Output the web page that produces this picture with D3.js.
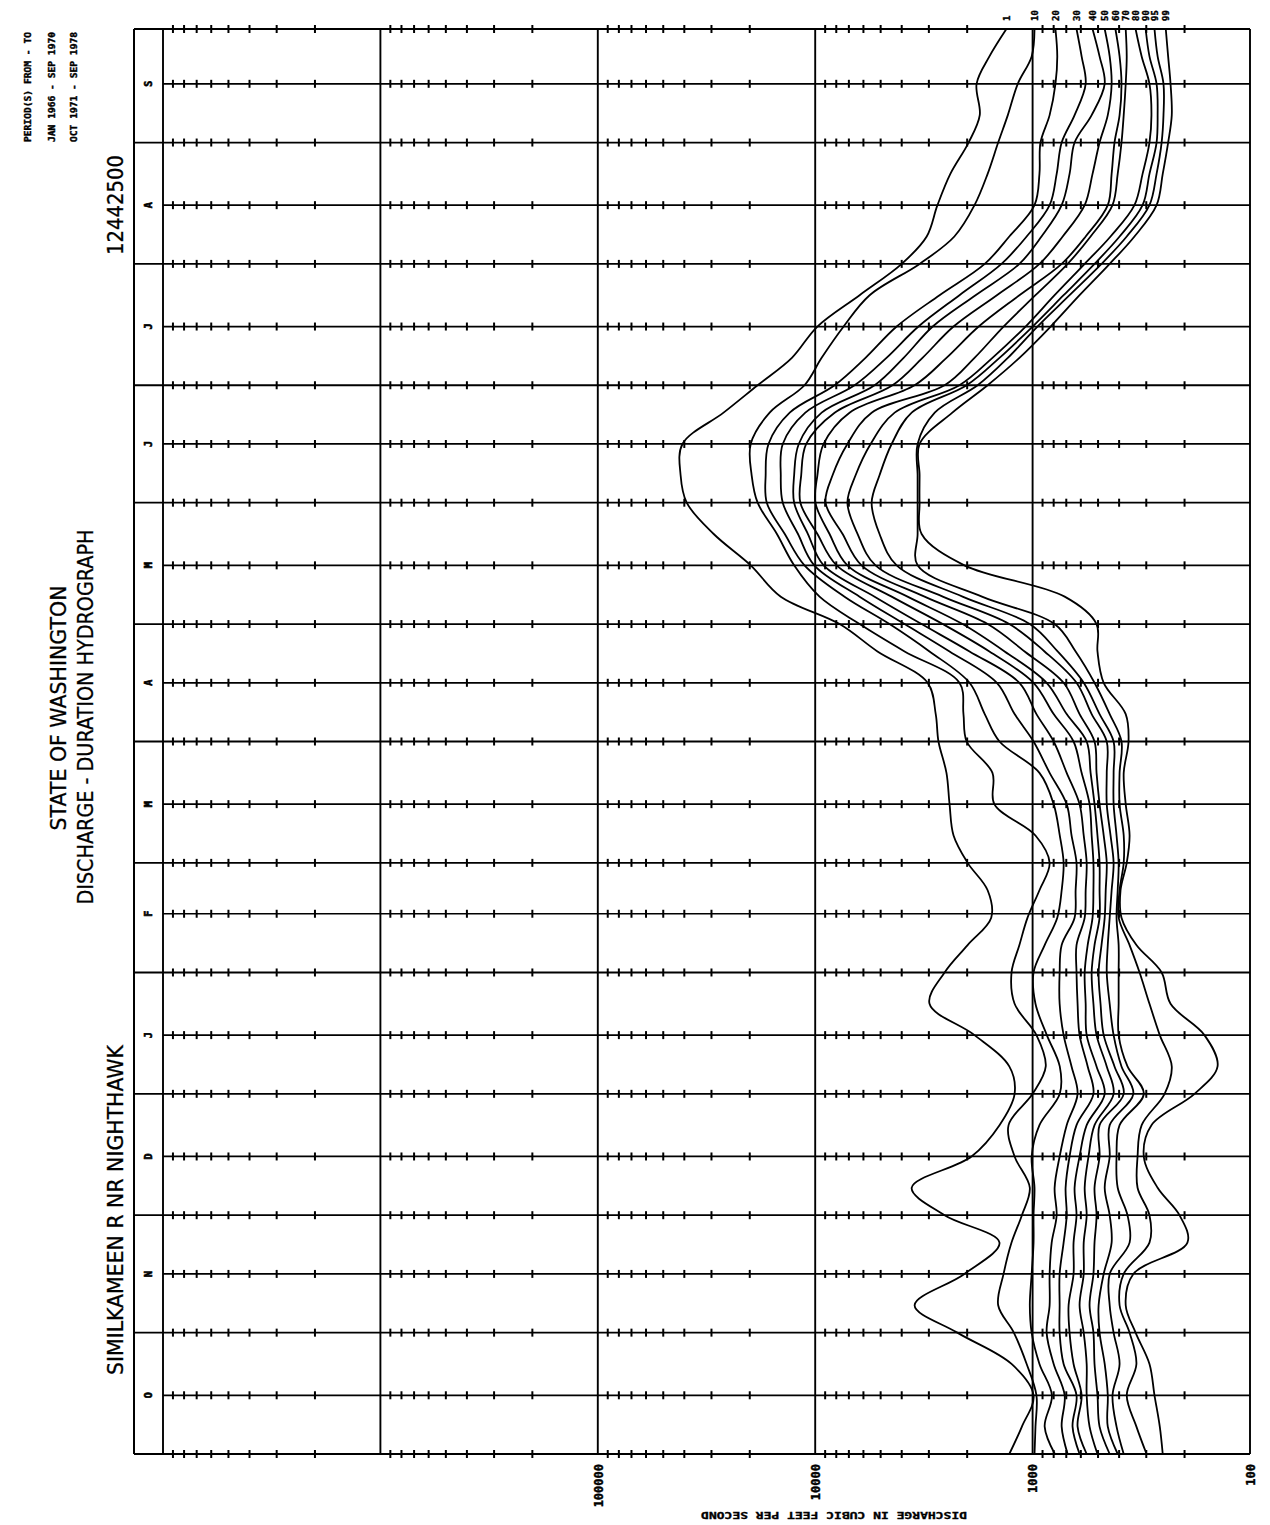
<!DOCTYPE html>
<html>
<head>
<meta charset="utf-8">
<script src="https://cdn.jsdelivr.net/npm/d3@7"></script>
<style>
  body { margin: 0; background: #fff; }
  text { fill: #000; }
</style>
</head>
<body>
<svg id="chart" width="1270" height="1525"></svg>
<script>
// sample dates of the water year (Oct 1969 - Sep 1970)
const dates = [
  "1969-10-01","1969-10-08","1969-10-16","1969-10-24",
  "1969-11-01","1969-11-08","1969-11-16","1969-11-24",
  "1969-12-01","1969-12-08","1969-12-16","1969-12-24",
  "1970-01-01","1970-01-08","1970-01-16","1970-01-24",
  "1970-02-01","1970-02-08","1970-02-15","1970-02-22",
  "1970-03-01","1970-03-08","1970-03-16","1970-03-24",
  "1970-04-01","1970-04-08","1970-04-16","1970-04-24",
  "1970-05-01","1970-05-08","1970-05-16","1970-05-24",
  "1970-06-01","1970-06-08","1970-06-16","1970-06-24",
  "1970-07-01","1970-07-08","1970-07-16","1970-07-24",
  "1970-08-01","1970-08-08","1970-08-16","1970-08-24",
  "1970-09-01","1970-09-08","1970-09-16","1970-09-23","1970-09-30"
];

// discharge (cfs) equalled or exceeded the given percent of time
const p1  = [1280,1120,990,1250,2220,3490,2060,1420,2540,3600,1910,1420,1210,1280,1850,2980,2540,1990,1550,1610,1990,2310,2410,2490,2710,2790,3040,5170,7720,14400,19800,29300,39000,41600,40800,26400,18400,12800,9770,6250,4000,3070,2740,2390,1970,1750,1810,1580,1320];
const p10 = [980,970,960,1065,1220,1440,1360,1250,1120,1030,1210,1290,1000,870,960,1210,1250,1150,1055,930,835,970,1500,1530,2010,2080,2170,3880,6250,9550,12500,15000,18400,19600,19800,16200,11200,9340,7400,5620,3310,2290,1850,1610,1440,1300,1170,1010,980];
const p20 = [790,880,815,930,1010,1030,1010,990,990,980,1010,930,750,750,860,970,990,880,770,735,720,750,800,930,1420,1660,1950,2980,4550,7330,11200,13800,16700,16900,16400,13100,8140,5870,4220,2680,1660,1280,980,930,920,835,785,770,785];
const p30 = [690,735,712,800,862,835,835,817,775,792,751,697,621,662,720,751,751,735,641,634,628,662,697,835,990,1210,1460,2410,3880,6250,10100,12000,14100,14400,14100,11100,6590,4700,3350,2170,1390,1065,835,775,735,641,570,595,628];
const p40 = [608,655,628,720,751,751,751,720,697,705,676,628,525,558,608,621,628,628,576,570,564,582,608,697,800,960,1150,1950,3240,5330,9140,10800,12500,12500,11900,9340,5330,3920,2880,1830,1150,910,735,676,641,535,466,492,530];
const p50 = [564,621,595,648,676,683,648,648,628,641,608,564,466,508,564,570,576,558,530,525,525,535,547,595,648,800,990,1580,2590,4450,7970,9770,11700,11600,11000,8140,4410,3210,2310,1460,929,727,576,530,492,451,433,442,466];
const p60 = [503,547,564,564,582,608,582,582,564,576,553,519,424,456,508,525,535,519,492,492,492,503,519,541,564,697,862,1345,2100,3760,7110,8590,9980,9770,9150,6950,3490,2490,1770,1150,735,570,451,433,420,398,390,398,416];
const p70 = [442,492,503,519,525,547,525,519,508,519,492,492,381,420,471,487,497,482,466,461,456,471,492,508,519,608,720,1088,1610,3140,6120,7480,8960,8320,7110,5500,2540,1850,1360,970,690,541,429,406,390,381,373,369,373];
const p80 = [406,451,451,466,492,497,471,433,442,466,442,442,344,390,424,442,456,451,442,433,424,438,456,456,456,535,628,881,1280,2590,5280,6380,7110,6520,5560,4310,2170,1530,1077,792,576,438,340,312,290,284,290,315,336];
const p90 = [381,411,429,398,424,442,442,358,366,406,411,398,308,366,402,402,402,402,411,406,402,411,424,424,424,492,582,767,1030,2100,4220,5060,5500,5060,4450,3600,2010,1420,1000,720,519,398,312,290,269,266,269,290,302];
const p95 = [299,333,369,333,358,398,381,290,290,329,329,315,247,229,260,290,322,358,402,398,381,381,398,398,390,442,519,634,792,1710,3380,3380,3380,3380,3380,2820,1790,1300,950,676,482,369,290,269,255,250,250,266,275];
const p99 = [252,260,275,290,336,373,344,194,211,266,308,284,180,141,162,232,255,333,390,394,369,358,373,381,362,373,471,503,508,712,2060,3240,3310,3310,3310,2340,1610,1150,826,608,442,340,269,252,238,229,232,238,244];

const percentLabels = ["1","10","20","30","40","50","60","70","80","90","95","99"];
const monthLetters = ["O","N","D","J","F","M","A","M","J","J","A","S"];
const axisTicks = [100000, 10000, 1000, 100];

const svg = d3.select("#chart");
const parse = d3.timeParse("%Y-%m-%d");
const start = parse("1969-10-01");
const end = parse("1970-09-30");

const x = d3.scaleLog().domain([1e7, 100]).range([163, 1250]);
const y = d3.scaleTime().domain([start, end]).range([1454, 29]);
const stripLeft = 134;

const grid = svg.append("g").attr("stroke", "#000").attr("fill", "none");

// month boundaries and mid-month lines
const monthStarts = d3.timeMonth.range(start, end);
const boundaries = monthStarts.concat([end]);
const mids = monthStarts.map(m => d3.timeDay.offset(m, 15));

grid.selectAll("line.bound").data(boundaries).join("line")
  .attr("class", "bound")
  .attr("x1", stripLeft).attr("x2", x(100))
  .attr("y1", d => y(d)).attr("y2", d => y(d))
  .attr("stroke-width", 1.8);

grid.selectAll("line.mid").data(mids).join("line")
  .attr("class", "mid")
  .attr("x1", x(1e7)).attr("x2", x(100))
  .attr("y1", d => y(d)).attr("y2", d => y(d))
  .attr("stroke-width", 1.7);

// decade lines
const decades = d3.range(2, 8).map(e => Math.pow(10, e));
grid.selectAll("line.dec").data(decades).join("line")
  .attr("class", "dec")
  .attr("x1", d => x(d)).attr("x2", d => x(d))
  .attr("y1", y(start)).attr("y2", y(end))
  .attr("stroke-width", 1.9);

grid.append("line")
  .attr("x1", stripLeft).attr("x2", stripLeft)
  .attr("y1", y(start)).attr("y2", y(end))
  .attr("stroke-width", 2);

// minor ticks on every horizontal line
const minor = [];
for (let e = 2; e <= 6; e++) for (let m = 2; m <= 9; m++) minor.push(m * Math.pow(10, e));
const allRows = boundaries.concat(mids);
allRows.forEach(row => {
  const yy = y(row);
  grid.append("g").selectAll("line").data(minor).join("line")
    .attr("x1", d => x(d)).attr("x2", d => x(d))
    .attr("y1", yy - 4).attr("y2", yy + 4)
    .attr("stroke-width", 2);
});

// month letters in the left strip
svg.append("g").selectAll("text").data(mids).join("text")
  .attr("transform", d => `translate(${(stripLeft + x(1e7)) / 2},${y(d)}) rotate(-90)`)
  .attr("text-anchor", "middle")
  .attr("dy", "0.35em")
  .attr("font-family", "DejaVu Sans Mono")
  .attr("font-weight", "bold")
  .attr("font-size", 10)
  .attr("stroke", "#000")
  .attr("stroke-width", 0.6)
  .text((d, i) => monthLetters[i]);

// duration curves
const series = [p1, p10, p20, p30, p40, p50, p60, p70, p80, p90, p95, p99].map((vals, i) => ({
  label: percentLabels[i],
  points: vals.map((v, j) => ({ date: parse(dates[j]), q: v }))
}));

const line = d3.line()
  .x(d => x(d.q))
  .y(d => y(d.date))
  .curve(d3.curveCatmullRom.alpha(0.5));

svg.append("g").selectAll("path").data(series).join("path")
  .attr("d", d => line(d.points))
  .attr("fill", "none")
  .attr("stroke", "#000")
  .attr("stroke-width", 1.8)
  .attr("stroke-linejoin", "round");

// percent labels at the curve ends
svg.append("g").selectAll("text").data(series).join("text")
  .attr("transform", d => `translate(${x(d.points[d.points.length - 1].q)},21) rotate(-90)`)
  .attr("text-anchor", "start")
  .attr("dy", "0.35em")
  .attr("font-family", "DejaVu Sans Mono")
  .attr("font-weight", "bold")
  .attr("font-size", 9)
  .attr("stroke", "#000")
  .attr("stroke-width", 0.4)
  .text(d => d.label);

// discharge axis labels
const axis = d3.axisBottom(x).tickValues(axisTicks).tickSize(0).tickFormat(d3.format("d"));
const axisG = svg.append("g").attr("transform", `translate(0,${y(start)})`).call(axis);
axisG.select(".domain").remove();
axisG.selectAll("text")
  .attr("x", 0).attr("y", 0)
  .attr("dy", "0.35em")
  .attr("transform", "translate(0,10) rotate(-90)")
  .attr("text-anchor", "end")
  .attr("font-family", "DejaVu Sans Mono")
  .attr("font-weight", "bold")
  .attr("font-size", 12)
  .attr("stroke", "#000")
  .attr("stroke-width", 0.4)
  .attr("fill", "#000");

svg.append("text")
  .attr("transform", "translate(834,1515) rotate(180)")
  .attr("text-anchor", "middle")
  .attr("dy", "0.35em")
  .attr("font-family", "DejaVu Sans Mono")
  .attr("font-weight", "bold")
  .attr("font-size", 9)
  .attr("stroke", "#000")
  .attr("stroke-width", 0.3)
  .attr("textLength", 266)
  .attr("lengthAdjust", "spacingAndGlyphs")
  .text("DISCHARGE IN CUBIC FEET PER SECOND");

// titles (rotated, reading bottom to top)
const titles = [
  { t: "STATE OF WASHINGTON", cx: 59, cy: 708, len: 245 },
  { t: "DISCHARGE - DURATION HYDROGRAPH", cx: 86, cy: 717, len: 375 },
  { t: "SIMILKAMEEN R NR NIGHTHAWK", cx: 116, cy: 1210, len: 330 },
  { t: "12442500", cx: 116, cy: 205, len: 100 }
];
svg.append("g").selectAll("text").data(titles).join("text")
  .attr("transform", d => `translate(${d.cx},${d.cy}) rotate(-90)`)
  .attr("text-anchor", "middle")
  .attr("dy", "0.35em")
  .attr("font-family", "DejaVu Sans")
  .attr("font-size", 21)
  .attr("stroke", "#000")
  .attr("stroke-width", 0.3)
  .attr("textLength", d => d.len)
  .attr("lengthAdjust", "spacingAndGlyphs")
  .text(d => d.t);

const periods = [
  { t: "PERIOD(S) FROM - TO", cx: 28 },
  { t: "JAN 1966 - SEP 1970", cx: 52 },
  { t: "OCT 1971 - SEP 1978", cx: 74 }
];
svg.append("g").selectAll("text").data(periods).join("text")
  .attr("transform", d => `translate(${d.cx},142) rotate(-90)`)
  .attr("text-anchor", "start")
  .attr("dy", "0.35em")
  .attr("font-family", "DejaVu Sans Mono")
  .attr("font-weight", "bold")
  .attr("font-size", 9)
  .attr("stroke", "#000")
  .attr("stroke-width", 0.4)
  .attr("textLength", 110)
  .attr("lengthAdjust", "spacingAndGlyphs")
  .text(d => d.t);
</script>
</body>
</html>
